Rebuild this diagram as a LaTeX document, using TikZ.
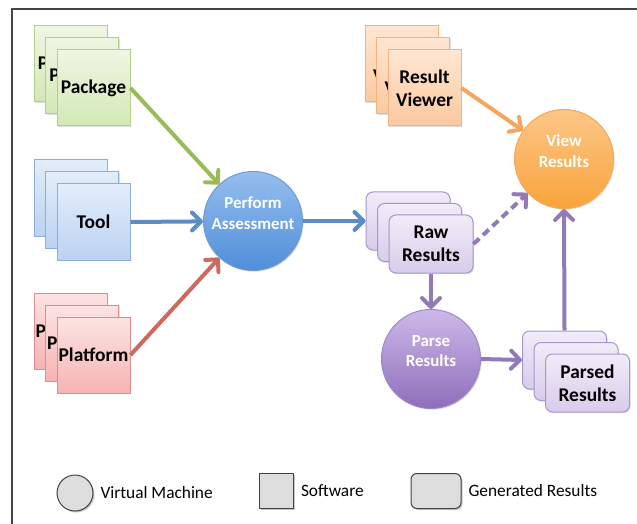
\documentclass[tikz,border=0pt]{standalone}
\usepackage{fontspec}
\setmainfont{Carlito}
\usetikzlibrary{arrows.meta,shadows,positioning}
% box colours
\definecolor{pkgtop}{HTML}{EEF6E2}\definecolor{pkgbot}{HTML}{D3E8B5}\definecolor{pkgdraw}{HTML}{B3CF8A}
\definecolor{tooltop}{HTML}{E3EDFA}\definecolor{toolbot}{HTML}{BBD2F0}\definecolor{tooldraw}{HTML}{8DAEDC}
\definecolor{plattop}{HTML}{FDE3E3}\definecolor{platbot}{HTML}{F7B3B3}\definecolor{platdraw}{HTML}{DE8C8C}
\definecolor{viewertop}{HTML}{FEE6D2}\definecolor{viewerbot}{HTML}{FCC9A0}\definecolor{viewerdraw}{HTML}{F6B27A}
\definecolor{restop}{HTML}{F1ECF8}\definecolor{resbot}{HTML}{D8CCEB}\definecolor{resdraw}{HTML}{A896CC}
% circle colours
\definecolor{assesstop}{HTML}{96BEEF}\definecolor{assessbot}{HTML}{4F8ED8}\definecolor{assessdraw}{HTML}{6D9BD6}
\definecolor{viewtop}{HTML}{FCC687}\definecolor{viewbot}{HTML}{F9A43C}\definecolor{viewdraw}{HTML}{F4A956}
\definecolor{parsetop}{HTML}{CDB9E8}\definecolor{parsebot}{HTML}{8E6EBB}\definecolor{parsedraw}{HTML}{9F86C6}
% connector colours
\definecolor{greenline}{HTML}{9BBB59}
\definecolor{blueline}{HTML}{5A8CC6}
\definecolor{redline}{HTML}{CC6A62}
\definecolor{orangeline}{HTML}{F6A45E}
\definecolor{purpleline}{HTML}{9279B8}
\definecolor{keyfill}{HTML}{DDDDDD}
\definecolor{keydraw}{HTML}{444444}
\begin{document}
\begin{tikzpicture}[x=1bp,y=-1bp,
    softshadow/.style={drop shadow={opacity=.25,shadow xshift=1.2bp,shadow yshift=-1.2bp}},
    card/.style={draw, line width=1bp, softshadow, minimum width=73bp, minimum height=76bp,
        inner sep=0pt, align=center, font=\fontsize{19.5}{23}\selectfont\bfseries},
    pkgcard/.style={card, draw=pkgdraw, top color=pkgtop, bottom color=pkgbot},
    toolcard/.style={card, draw=tooldraw, top color=tooltop, bottom color=toolbot},
    platcard/.style={card, draw=platdraw, top color=plattop, bottom color=platbot},
    viewercard/.style={card, draw=viewerdraw, top color=viewertop, bottom color=viewerbot},
    rescard/.style={card, draw=resdraw, top color=restop, bottom color=resbot,
        rounded corners=7bp, minimum width=84bp, minimum height=58bp},
    vm/.style={circle, draw, line width=1bp, softshadow, minimum size=99bp, inner sep=0pt},
    vmlabel/.style={yshift=8bp, align=center, text=white, font=\fontsize{17}{20.5}\selectfont\bfseries},
    flow/.style={line width=4bp, -{Straight Barb[length=9bp,width=18bp,round]}},
    keyshape/.style={draw=keydraw, fill=keyfill, line width=1bp,
        drop shadow={opacity=.45,shadow xshift=1.5bp,shadow yshift=-1.5bp}},
    keytext/.style={right=3.5bp of #1, font=\fontsize{17.4}{19}\selectfont},
]
\useasboundingbox (0,0) rectangle (637,524);
\draw[keydraw, line width=1.2bp] (12,524) -- (12,9) -- (637,9);

% software stacks
\foreach \d in {2,1,0} {
    \node[pkgcard] (pkg\d) at ({93.5-11.5*\d},{88-12*\d}) {Package};
    \node[toolcard] (tool\d) at ({93.5-11.5*\d},{222-12*\d}) {Tool};
    \node[platcard] (plat\d) at ({93.5-11.5*\d},{355-12*\d}) {Platform};
    \node[viewercard] (viewer\d) at ({424.5-11.5*\d},{88-12*\d}) {Result\\Viewer};
}
% result stacks
\foreach \d in {2,1} {
    \node[rescard] (raw\d) at ({431-11.5*\d},{244-11.5*\d}) {};
    \node[rescard] (parsed\d) at ({587.5-11.5*\d},{383-11.5*\d}) {};
}
\node[rescard] (raw0) at (431,244) {Raw\\Results};
\node[rescard] (parsed0) at (587.5,383) {Parsed\\Results};

% virtual machines
\node[vm, draw=assessdraw, top color=assesstop, bottom color=assessbot,
    label={[vmlabel]center:Perform\\Assessment}] (assess) at (253,221) {};
\node[vm, draw=viewdraw, top color=viewtop, bottom color=viewbot,
    label={[vmlabel]center:View\\Results}] (view) at (564,159) {};
\node[vm, draw=parsedraw, top color=parsetop, bottom color=parsebot,
    label={[vmlabel]center:Parse\\Results}] (parse) at (431,359) {};

% connectors
\draw[flow, greenline] (pkg0.east) -- (assess);
\draw[flow, blueline] (tool0.east) -- (assess);
\draw[flow, redline] (plat0.east) -- (assess);
\draw[flow, blueline] (assess.east) -- (raw2.west);
\draw[flow, orangeline] (viewer0.east) -- (view);
\draw[flow, purpleline, dash pattern=on 8bp off 5bp] (raw0.east) -- (view);
\draw[flow, purpleline] (raw0.south) -- (parse.north);
\draw[flow, purpleline] (parse.east) -- (parsed2.west);
\draw[flow, purpleline] (parsed2.north) -- (view.south);

% legend
\node[keyshape, circle, minimum size=36bp, inner sep=0pt] (vmkey) at (75,493) {};
\node[keytext=vmkey] {Virtual Machine};
\node[keyshape, minimum width=34bp, minimum height=35bp, inner sep=0pt] (softkey) at (276.5,491) {};
\node[keytext=softkey] {Software};
\node[keyshape, rounded corners=6bp, minimum width=50bp, minimum height=35bp, inner sep=0pt] (reskey) at (436,491) {};
\node[keytext=reskey] {Generated Results};
\end{tikzpicture}
\end{document}
